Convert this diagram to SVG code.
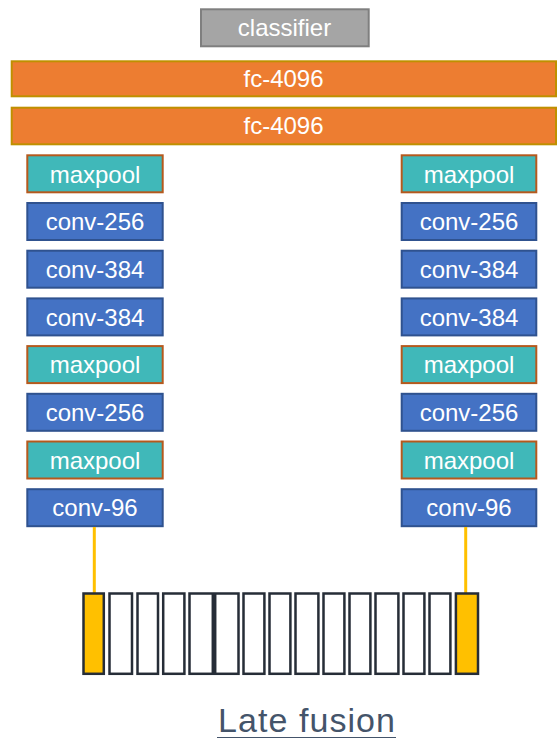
<svg xmlns="http://www.w3.org/2000/svg" width="558" height="739" viewBox="0 0 558 739">
<style>
.lbl{font-family:"Liberation Sans",Arial,sans-serif;font-size:24px;fill:#ffffff;text-anchor:middle}
.cls{fill:#a5a5a5;stroke:#7f7f7f;stroke-width:2}
.fc{fill:#ed7d31;stroke:#bf9000;stroke-width:2}
.mp{fill:#40b8b9;stroke:#b5591d;stroke-width:2}
.cv{fill:#4472c4;stroke:#2f528f;stroke-width:2}
.cell{fill:#ffffff;stroke:#262d37;stroke-width:2.5}
.ycell{fill:#ffc000;stroke:#262d37;stroke-width:2.5}
.conn{stroke:#ffc000;stroke-width:3;fill:none}
</style>
<rect width="558" height="739" fill="#ffffff"/>
<g id="classifier"><rect class="cls" x="201" y="9.3" width="167.7" height="37"/><text class="lbl" x="284.5" y="36" fill="#f2f2f2">classifier</text></g>
<g id="fc1"><rect class="fc" x="11.7" y="61.3" width="544.3" height="35"/><text class="lbl" x="283.5" y="87">fc-4096</text></g>
<g id="fc2"><rect class="fc" x="11.7" y="107.7" width="544.3" height="36.6"/><text class="lbl" x="283.5" y="134">fc-4096</text></g>

<g id="L-maxpool-3"><rect class="mp" x="27.3" y="155.3" width="135.4" height="37"/><text class="lbl" x="95" y="182.5">maxpool</text></g>
<g id="L-conv-256-b"><rect class="cv" x="27.3" y="203" width="135.4" height="37"/><text class="lbl" x="95" y="230.2">conv-256</text></g>
<g id="L-conv-384-b"><rect class="cv" x="27.3" y="250.7" width="135.4" height="37"/><text class="lbl" x="95" y="277.9">conv-384</text></g>
<g id="L-conv-384-a"><rect class="cv" x="27.3" y="298.4" width="135.4" height="37"/><text class="lbl" x="95" y="325.6">conv-384</text></g>
<g id="L-maxpool-2"><rect class="mp" x="27.3" y="346.1" width="135.4" height="37"/><text class="lbl" x="95" y="373.3">maxpool</text></g>
<g id="L-conv-256-a"><rect class="cv" x="27.3" y="393.8" width="135.4" height="37"/><text class="lbl" x="95" y="421">conv-256</text></g>
<g id="L-maxpool-1"><rect class="mp" x="27.3" y="441.5" width="135.4" height="37"/><text class="lbl" x="95" y="468.7">maxpool</text></g>
<g id="L-conv-96"><rect class="cv" x="27.3" y="489.2" width="135.4" height="37"/><text class="lbl" x="95" y="516.4">conv-96</text></g>

<g id="R-maxpool-3"><rect class="mp" x="401.7" y="155.3" width="134.6" height="37"/><text class="lbl" x="469" y="182.5">maxpool</text></g>
<g id="R-conv-256-b"><rect class="cv" x="401.7" y="203" width="134.6" height="37"/><text class="lbl" x="469" y="230.2">conv-256</text></g>
<g id="R-conv-384-b"><rect class="cv" x="401.7" y="250.7" width="134.6" height="37"/><text class="lbl" x="469" y="277.9">conv-384</text></g>
<g id="R-conv-384-a"><rect class="cv" x="401.7" y="298.4" width="134.6" height="37"/><text class="lbl" x="469" y="325.6">conv-384</text></g>
<g id="R-maxpool-2"><rect class="mp" x="401.7" y="346.1" width="134.6" height="37"/><text class="lbl" x="469" y="373.3">maxpool</text></g>
<g id="R-conv-256-a"><rect class="cv" x="401.7" y="393.8" width="134.6" height="37"/><text class="lbl" x="469" y="421">conv-256</text></g>
<g id="R-maxpool-1"><rect class="mp" x="401.7" y="441.5" width="134.6" height="37"/><text class="lbl" x="469" y="468.7">maxpool</text></g>
<g id="R-conv-96"><rect class="cv" x="401.7" y="489.2" width="134.6" height="37"/><text class="lbl" x="469" y="516.4">conv-96</text></g>

<g id="connectors">
<line class="conn" x1="94.3" y1="527" x2="94.3" y2="593"/>
<line class="conn" x1="465.7" y1="527" x2="465.7" y2="593"/>
</g>

<g id="frames">
<rect class="ycell" x="83.5" y="593.5" width="20.3" height="80.3"/>
<rect class="cell" x="109.5" y="593.5" width="22.5" height="80.3"/>
<rect class="cell" x="137.5" y="593.5" width="20.5" height="80.3"/>
<rect class="cell" x="163.2" y="593.5" width="21.2" height="80.3"/>
<rect class="cell" x="189.5" y="593.5" width="23.3" height="80.3"/>
<rect class="cell" x="215.2" y="593.5" width="23.3" height="80.3"/>
<rect class="cell" x="243.5" y="593.5" width="20.9" height="80.3"/>
<rect class="cell" x="269.5" y="593.5" width="20.9" height="80.3"/>
<rect class="cell" x="295.5" y="593.5" width="22.9" height="80.3"/>
<rect class="cell" x="323.5" y="593.5" width="20.9" height="80.3"/>
<rect class="cell" x="349.5" y="593.5" width="20.9" height="80.3"/>
<rect class="cell" x="375.5" y="593.5" width="22.9" height="80.3"/>
<rect class="cell" x="403.5" y="593.5" width="20.9" height="80.3"/>
<rect class="cell" x="429.5" y="593.5" width="20.9" height="80.3"/>
<rect class="ycell" x="455.9" y="593.5" width="22.1" height="80.3"/>
</g>

<g id="title">
<text x="218" y="731.5" font-family="'Liberation Sans',Arial,sans-serif" font-size="34" fill="#44546a" textLength="177" lengthAdjust="spacing">Late fusion</text>
<line x1="217" y1="737.5" x2="396" y2="737.5" stroke="#44546a" stroke-width="1.2"/>
</g>
</svg>
